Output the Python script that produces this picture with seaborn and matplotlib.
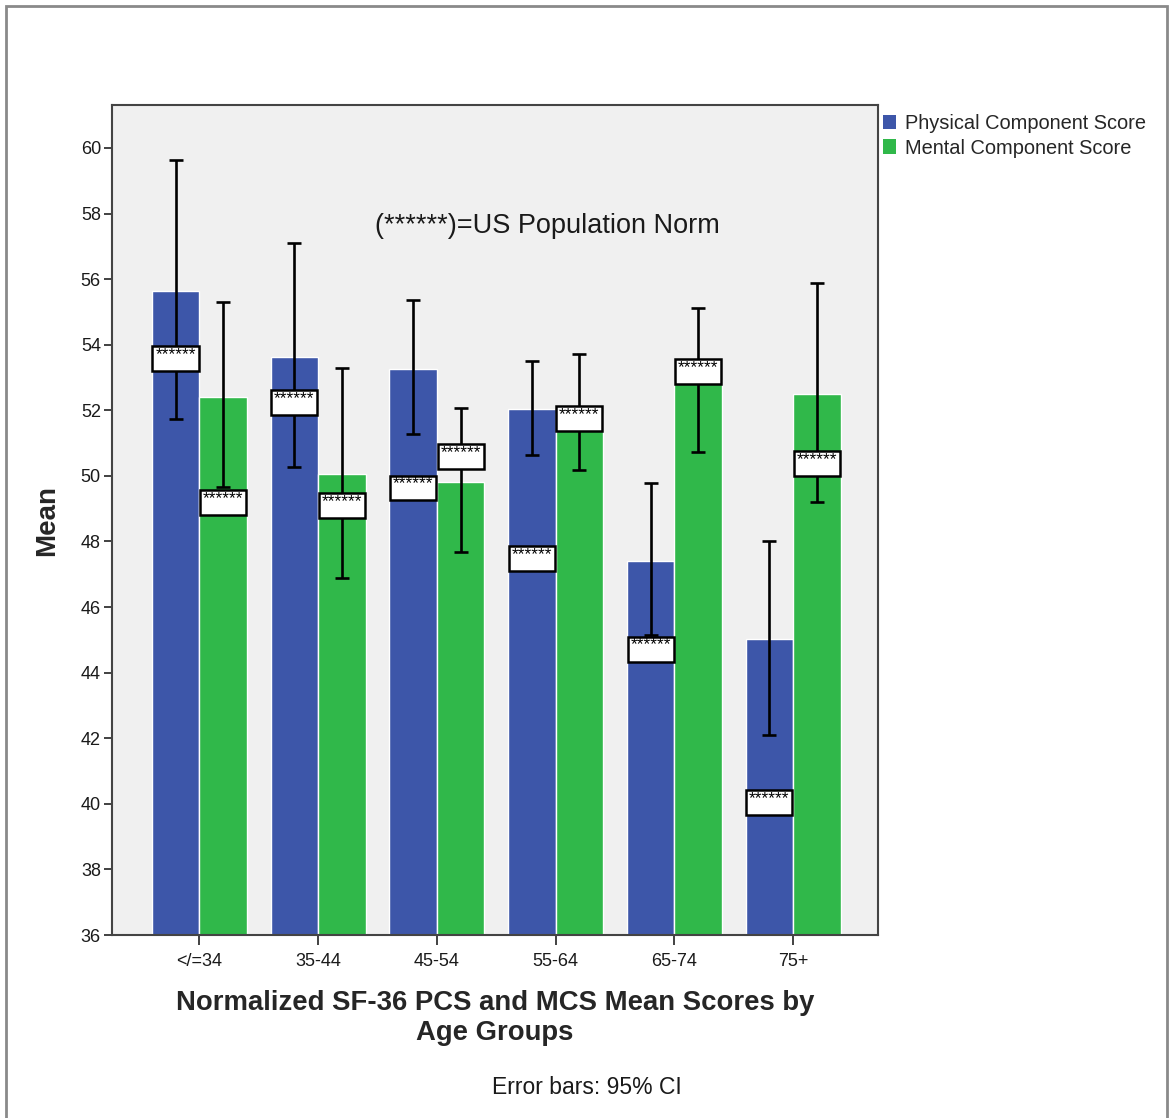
import matplotlib
matplotlib.use("Agg")
import matplotlib.pyplot as plt
import seaborn as sns
import pandas as pd
import numpy as np
from matplotlib.patches import Rectangle

# ---------------- data ----------------
age_groups = ["</=34", "35-44", "45-54", "55-64", "65-74", "75+"]
series_names = ["Physical Component Score", "Mental Component Score"]

pcs_mean = [55.64, 53.63, 53.26, 52.04, 47.41, 45.03]
pcs_ci_low = [51.74, 50.27, 51.28, 50.65, 45.15, 42.10]
pcs_ci_high = [59.63, 57.10, 55.37, 53.50, 49.78, 48.02]
pcs_norm = [53.57, 52.25, 49.63, 47.47, 44.72, 40.03]

mcs_mean = [52.41, 50.06, 49.80, 51.92, 52.90, 52.50]
mcs_ci_low = [49.66, 46.90, 47.68, 50.18, 50.73, 49.20]
mcs_ci_high = [55.30, 53.30, 52.07, 53.72, 55.12, 55.89]
mcs_norm = [49.20, 49.10, 50.58, 51.74, 53.17, 50.39]

y_ticks = [36, 38, 40, 42, 44, 46, 48, 50, 52, 54, 56, 58, 60]

# ---------------- style ----------------
sns.set_style("white")
plt.rcParams["font.family"] = ["Liberation Sans", "DejaVu Sans"]

colors = ["#3d56a9", "#30b84a"]

df = pd.DataFrame({
    "Age": age_groups * 2,
    "Score": [series_names[0]] * 6 + [series_names[1]] * 6,
    "Mean": pcs_mean + mcs_mean,
})

fig = plt.figure(figsize=(11.70, 11.18), dpi=100)
ax = fig.add_axes([112 / 1170, 1 - 935 / 1118, (878 - 112) / 1170, (935 - 105) / 1118])
ax.set_facecolor("#f0f0f0")

sns.barplot(data=df, x="Age", y="Mean", hue="Score", order=age_groups,
            hue_order=series_names, palette=colors, errorbar=None,
            width=0.8, saturation=1, edgecolor="white", linewidth=1.0,
            ax=ax, zorder=2)

lows = [pcs_ci_low, mcs_ci_low]
highs = [pcs_ci_high, mcs_ci_high]
means = [pcs_mean, mcs_mean]
norms = [pcs_norm, mcs_norm]

bar_containers = list(ax.containers)
for s, cont in enumerate(bar_containers):
    for i, patch in enumerate(cont.patches):
        xc = patch.get_x() + patch.get_width() / 2
        w = patch.get_width()
        m = means[s][i]
        ax.errorbar([xc], [m], yerr=[[m - lows[s][i]], [highs[s][i] - m]],
                    fmt="none", ecolor="black", elinewidth=1.9,
                    capsize=5, capthick=1.9, zorder=3)
        n = norms[s][i]
        bw = w * 0.97
        bh = 0.76
        ax.add_patch(Rectangle((xc - bw / 2, n - bh / 2), bw, bh,
                               facecolor="white", edgecolor="black",
                               linewidth=1.8, zorder=4))
        ax.text(xc, n + bh / 2 - 0.03, "******", ha="center", va="top",
                fontsize=12.5, color="black", zorder=5)

ax.set_xlim(-0.735, 5.715)
ax.set_ylim(36, 61.31)
ax.set_yticks(y_ticks)
ax.set_yticklabels([str(t) for t in y_ticks], fontsize=13, color="#1a1a1a")
ax.set_xticks(range(len(age_groups)))
ax.set_xticklabels(age_groups, fontsize=13, color="#1a1a1a")
ax.tick_params(axis="y", direction="out", length=6, width=1.3,
               color="#333333", left=True, pad=2)
ax.tick_params(axis="x", direction="out", length=7, width=1.3,
               color="#333333", bottom=True, pad=6)

for sp in ax.spines.values():
    sp.set_color("#444444")
    sp.set_linewidth(1.5)

ax.set_ylabel("Mean", fontsize=20, fontweight="bold", labelpad=15)
ax.set_xlabel("")

fig.text(547 / 1170, 1 - 226 / 1118, "(******)=US Population Norm",
         ha="center", va="center", fontsize=19.5, color="#1a1a1a")

# legend
leg = ax.legend(loc="upper left", bbox_to_anchor=(0.995, 1.0), frameon=False,
                fontsize=14.4, handlelength=0.65, handleheight=0.75,
                handletextpad=0.45, labelspacing=0.28, borderaxespad=0.0,
                borderpad=0.45)
for h in leg.legend_handles:
    h.set_edgecolor("none")

# title-like text under the axis
fig.text(495 / 1170, 1 - 1018 / 1118,
         "Normalized SF-36 PCS and MCS Mean Scores by\nAge Groups",
         ha="center", va="center", fontsize=19.8, fontweight="bold",
         linespacing=1.18)
fig.text(587 / 1170, 1 - 1088 / 1118, "Error bars: 95% CI",
         ha="center", va="center", fontsize=16.5, color="#1a1a1a")

# outer frame
fig.add_artist(Rectangle((5.5 / 1170, -0.05), (1166.5 - 5.5) / 1170,
                         1.05 - 5.5 / 1118, transform=fig.transFigure,
                         fill=False, edgecolor="#8a8a8a", linewidth=2.0))

fig.savefig("out.png", dpi=100)
